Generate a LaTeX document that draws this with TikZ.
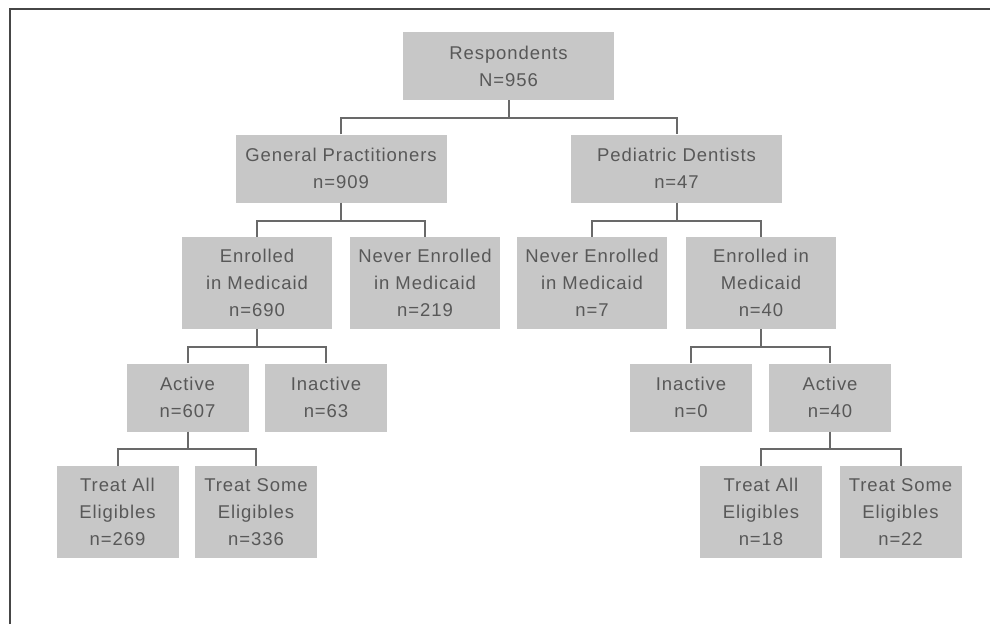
\documentclass[tikz,border=0pt]{standalone}
\usepackage{fontspec}
\setmainfont{Liberation Sans}[LetterSpace=5]
\definecolor{boxfill}{RGB}{199,199,199}
\definecolor{txt}{RGB}{88,88,88}
\definecolor{conn}{RGB}{105,105,105}
\definecolor{frame}{RGB}{70,70,70}
\begin{document}
\begin{tikzpicture}[x=1pt,y=-1pt,
  box/.style={fill=boxfill,draw=none,text=txt,align=center,inner sep=0pt,
    font=\fontsize{18.5}{27}\selectfont},
  wide/.style={box,minimum width=211,minimum height=68},
  mid/.style={box,minimum width=150,minimum height=92},
  small/.style={box,minimum width=122,minimum height=68},
  leaf/.style={box,minimum width=122,minimum height=92},
  conline/.style={draw=conn,line width=2}]
\useasboundingbox (0,0) rectangle (990,624);
\fill[white] (0,0) rectangle (990,624);
\draw[frame,line width=2.2] (10,624) -- (10,9) -- (990,9);

\node[wide] (R) at (508.5,66) {Respondents\\N=956};
\node[wide] (GP) at (341,168.5) {General Practitioners\\n=909};
\node[wide] (PD) at (676.5,168.5) {Pediatric Dentists\\n=47};

\node[mid] (E1) at (257,283) {Enrolled\\in Medicaid\\n=690};
\node[mid] (N1) at (425,283) {Never Enrolled\\in Medicaid\\n=219};
\node[mid] (N2) at (592,283) {Never Enrolled\\in Medicaid\\n=7};
\node[mid] (E2) at (761,283) {Enrolled in\\Medicaid\\n=40};

\node[small] (A1) at (187.5,397.5) {Active\\n=607};
\node[small] (I1) at (326,397.5) {Inactive\\n=63};
\node[small] (I2) at (691,397.5) {Inactive\\n=0};
\node[small] (A2) at (830,397.5) {Active\\n=40};

\node[leaf] (T1) at (117.5,512) {Treat All\\Eligibles\\n=269};
\node[leaf] (S1) at (256,512) {Treat Some\\Eligibles\\n=336};
\node[leaf] (T2) at (761,512) {Treat All\\Eligibles\\n=18};
\node[leaf] (S2) at (900.5,512) {Treat Some\\Eligibles\\n=22};

\path (R.south) ++(0,18) coordinate (bR);
\path (GP.south) ++(0,18) coordinate (bGP);
\path (PD.south) ++(0,18) coordinate (bPD);
\path (E1.south) ++(0,18) coordinate (bE1);
\path (E2.south) ++(0,18) coordinate (bE2);
\path (A1.south) ++(0,17) coordinate (bA1);
\path (A2.south) ++(0,17) coordinate (bA2);

\draw[conline] (R.south) -- (bR);
\draw[conline] (GP.north) |- (bR) -| (PD.north);
\draw[conline] (GP.south) -- (bGP);
\draw[conline] (E1.north) |- (bGP) -| (N1.north);
\draw[conline] (PD.south) -- (bPD);
\draw[conline] (N2.north) |- (bPD) -| (E2.north);
\draw[conline] (E1.south) -- (bE1);
\draw[conline] (A1.north) |- (bE1) -| (I1.north);
\draw[conline] (E2.south) -- (bE2);
\draw[conline] (I2.north) |- (bE2) -| (A2.north);
\draw[conline] (A1.south) -- (bA1);
\draw[conline] (T1.north) |- (bA1) -| (S1.north);
\draw[conline] (A2.south) -- (bA2);
\draw[conline] (T2.north) |- (bA2) -| (S2.north);
\end{tikzpicture}
\end{document}
